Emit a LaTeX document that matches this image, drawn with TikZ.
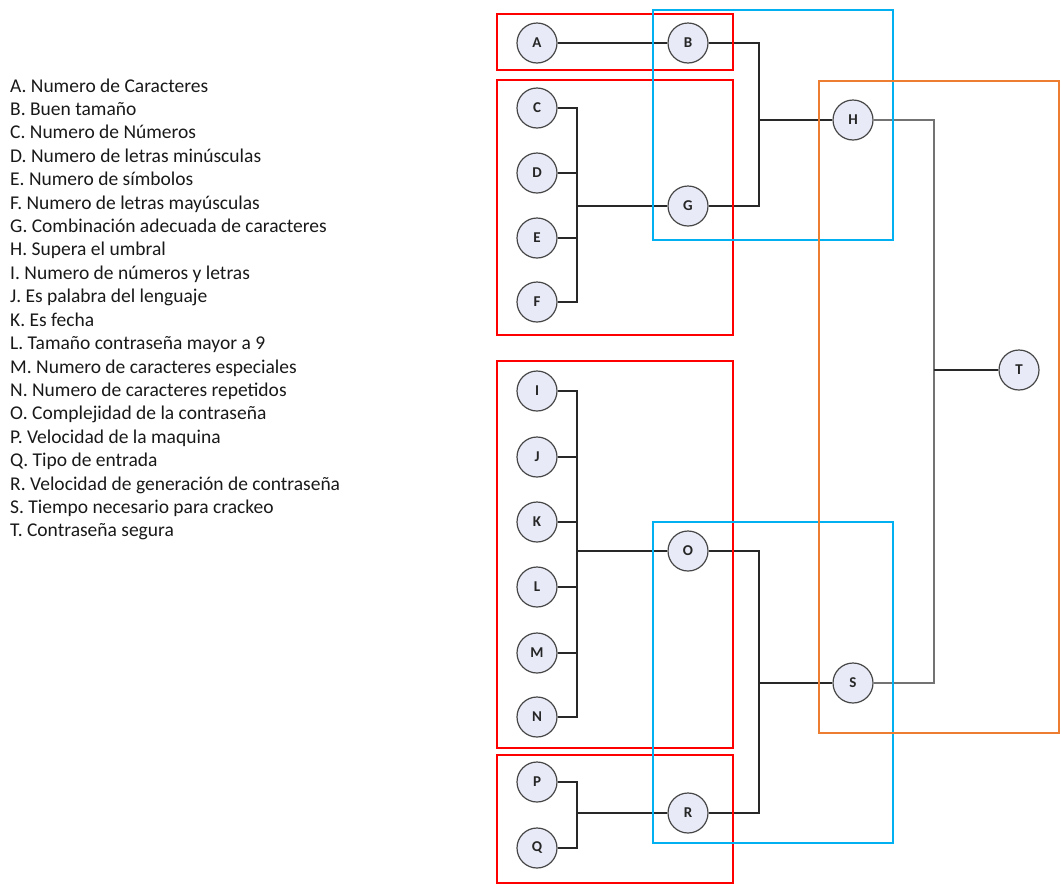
\documentclass[tikz,border=0pt]{standalone}
\usepackage{fontspec}
\setmainfont{Carlito}
\usepackage{xcolor}
\definecolor{boxred}{RGB}{255,0,0}
\definecolor{boxblue}{RGB}{0,176,240}
\definecolor{boxorange}{RGB}{237,125,49}
\definecolor{nodefill}{RGB}{232,235,247}
\definecolor{nodeline}{RGB}{70,70,70}
\definecolor{wire}{RGB}{40,40,40}
\usetikzlibrary{positioning, calc}

\begin{document}
\begin{tikzpicture}[x=1pt, y=-1pt,
  var/.style={circle, draw=nodeline, fill=nodefill, line width=1.2pt,
              minimum size=40pt, inner sep=0pt, font=\fontsize{15}{16}\selectfont\bfseries,
              text=black!85},
  link/.style={draw=wire, line width=1.1pt},
  group/.style={line width=2.2pt},
  legend/.style={anchor=base west, inner sep=0pt, text=black!90,
                 font=\fontsize{19.5}{21}\selectfont}]

  \useasboundingbox (0,0) rectangle (1061,884);

  % Legend
  \foreach \txt [count=\i] in {A. Numero de Caracteres, B. Buen tamaño,
      C. Numero de Números, D. Numero de letras minúsculas, E. Numero de símbolos,
      F. Numero de letras mayúsculas, G. Combinación adecuada de caracteres,
      H. Supera el umbral, I. Numero de números y letras, J. Es palabra del lenguaje,
      K. Es fecha, L. Tamaño contraseña mayor a 9, M. Numero de caracteres especiales,
      N. Numero de caracteres repetidos, O. Complejidad de la contraseña,
      P. Velocidad de la maquina, Q. Tipo de entrada,
      R. Velocidad de generación de contraseña, S. Tiempo necesario para crackeo,
      T. Contraseña segura}
    \node[legend] (leg\i) at (10, {92+23.42*(\i-1)}) {\txt};

  % Input variables
  \node[var] (A) at (537,43) {A};
  \node[var] (C) at (537,108) {C};
  \node[var] (D) at (537,173) {D};
  \node[var] (E) at (537,238) {E};
  \node[var] (F) at (537,302) {F};
  \node[var] (I) at (537,391) {I};
  \node[var] (J) at (537,457) {J};
  \node[var] (K) at (537,522) {K};
  \node[var] (L) at (537,587) {L};
  \node[var] (M) at (537,653) {M};
  \node[var] (N) at (537,717) {N};
  \node[var] (P) at (537,782) {P};
  \node[var] (Q) at (537,848) {Q};

  % Intermediate variables
  \node[var] (B) at (688,43) {B};
  \node[var] (G) at (688,206) {G};
  \node[var] (O) at (688,551) {O};
  \node[var] (R) at (688,813) {R};
  \node[var] (H) at (853,120) {H};
  \node[var] (S) at (853,683) {S};
  \node[var] (T) at (1019,370) {T};

  % Bus junctions
  \coordinate (jG) at (577,206);
  \coordinate (jO) at (577,551);
  \coordinate (jR) at (577,813);
  \coordinate (jH) at (759,120);
  \coordinate (jS) at (759,683);
  \coordinate (jT) at (934,370);

  % Connectors
  \draw[link] (A) -- (B);
  \foreach \src in {C,D,E,F} \draw[link] (\src.east) -| (jG);
  \draw[link] (jG) -- (G);
  \foreach \src in {I,J,K,L,M,N} \draw[link] (\src.east) -| (jO);
  \draw[link, line width=1.7pt] (jO) -- (O);
  \foreach \src in {P,Q} \draw[link] (\src.east) -| (jR);
  \draw[link, line width=1.5pt] (jR) -- (R);
  \foreach \src in {B,G} \draw[link] (\src.east) -| (jH);
  \draw[link, line width=1.5pt] (jH) -- (H);
  \foreach \src in {O,R} \draw[link] (\src.east) -| (jS);
  \draw[link] (jS) -- (S);
  \foreach \src in {H,S} \draw[link, draw=black!55] (\src.east) -| (jT);
  \draw[link, line width=1.5pt] (jT) -- (T);

  % Groups
  \draw[group, boxred] (497,14) rectangle (733,70);
  \draw[group, boxred] (497,80) rectangle (733,335);
  \draw[group, boxred] (497,361) rectangle (733,748);
  \draw[group, boxred] (497,755) rectangle (733,883);
  \draw[group, boxblue] (653,10) rectangle (893,240);
  \draw[group, boxblue] (653,522) rectangle (893,843);
  \draw[group, boxorange] (819,81) rectangle (1059,733);

\end{tikzpicture}
\end{document}
